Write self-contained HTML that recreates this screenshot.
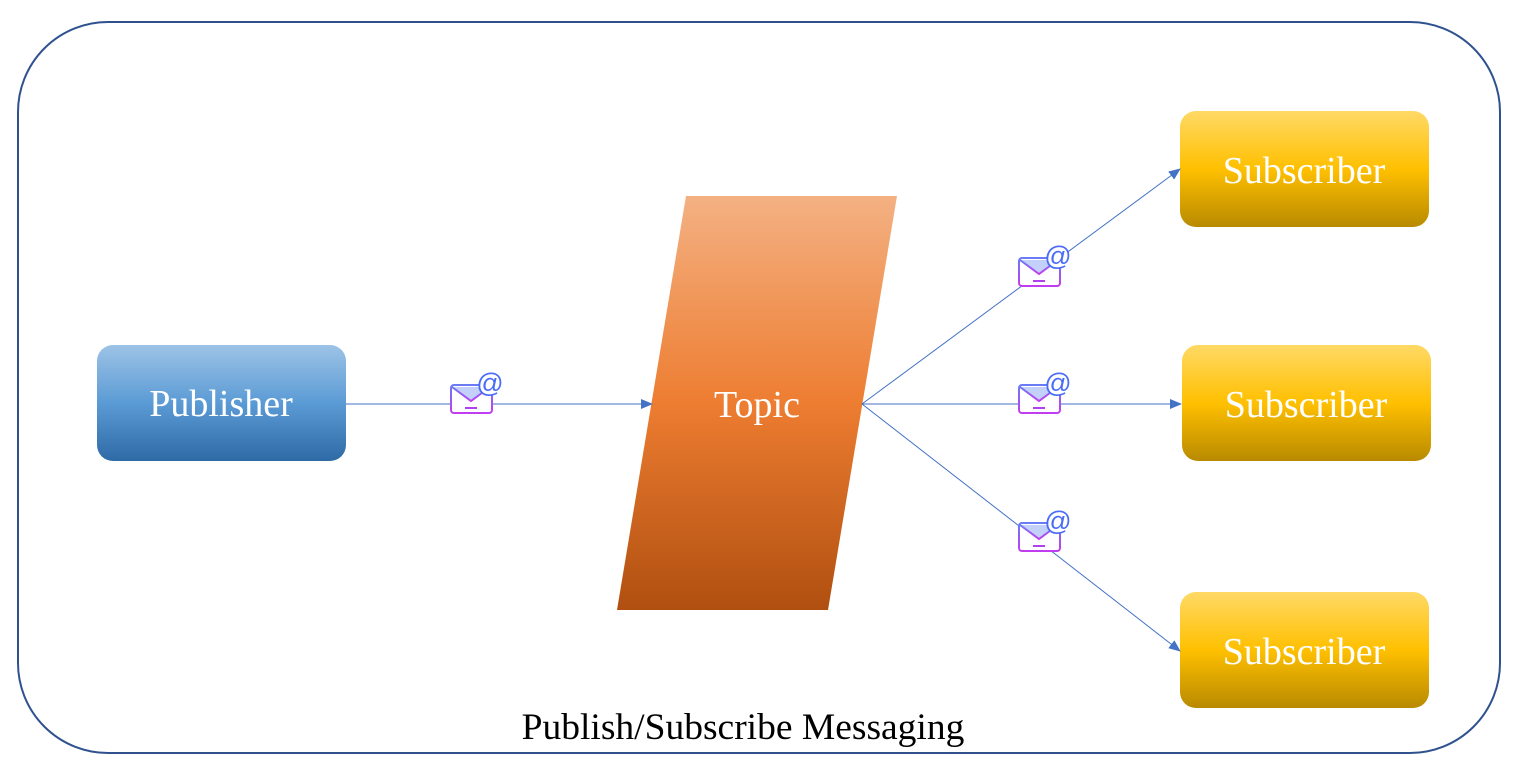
<!DOCTYPE html>
<html><head><meta charset="utf-8"><style>
html,body{margin:0;padding:0;background:#fff;}
svg{display:block;}
text{font-family:"Liberation Serif",serif;}
</style></head><body>
<svg width="1528" height="779" viewBox="0 0 1528 779" xmlns="http://www.w3.org/2000/svg">
<defs>
<linearGradient id="gb" x1="0" y1="0" x2="0" y2="1"><stop offset="0" stop-color="#9dc3e6"/><stop offset="0.5" stop-color="#5b9bd5"/><stop offset="1" stop-color="#2e6aa6"/></linearGradient>
<linearGradient id="gy" x1="0" y1="0" x2="0" y2="1"><stop offset="0" stop-color="#ffd966"/><stop offset="0.5" stop-color="#ffc000"/><stop offset="1" stop-color="#b88a00"/></linearGradient>
<linearGradient id="go" x1="0" y1="0" x2="0" y2="1"><stop offset="0" stop-color="#f4b183"/><stop offset="0.5" stop-color="#ed7d31"/><stop offset="1" stop-color="#b04f10"/></linearGradient>
<linearGradient id="gm" x1="0" y1="0" x2="0" y2="1"><stop offset="0" stop-color="#6a7cf5"/><stop offset="1" stop-color="#c23cf0"/></linearGradient>
<marker id="ar" markerWidth="12" markerHeight="10" refX="11" refY="5" orient="auto" markerUnits="userSpaceOnUse"><path d="M0,0 L12,5 L0,10 z" fill="#4472c4"/></marker>
<g id="ic">
<rect x="1" y="2" width="41" height="28" rx="3" fill="#fff" stroke="url(#gm)" stroke-width="2"/>
<path d="M2,4 L21,18 L40,4" fill="#c3d0fa" stroke="url(#gm)" stroke-width="2"/>
<path d="M15,25 L27,25" stroke="#b040f0" stroke-width="2"/>
<circle cx="40" cy="1" r="11" fill="#fff"/>
<text x="40" y="9" font-size="27" fill="#4a6cf7" text-anchor="middle" style="font-family:'Liberation Sans',sans-serif">@</text>
</g>
</defs>
<rect x="18" y="22" width="1482" height="731" rx="90" fill="#fff" stroke="#2f528f" stroke-width="2"/>
<rect x="97" y="345" width="249" height="116" rx="16" fill="url(#gb)"/>
<text x="221" y="416" font-size="38" fill="#fff" text-anchor="middle">Publisher</text>
<polygon points="686,196 897,196 828,610 617,610" fill="url(#go)"/>
<text x="757" y="417" font-size="38" fill="#fff" text-anchor="middle">Topic</text>
<rect x="1180" y="111" width="249" height="116" rx="16" fill="url(#gy)"/>
<text x="1304" y="183" font-size="38" fill="#fff" text-anchor="middle">Subscriber</text>
<rect x="1182" y="345" width="249" height="116" rx="16" fill="url(#gy)"/>
<text x="1306" y="417" font-size="38" fill="#fff" text-anchor="middle">Subscriber</text>
<rect x="1180" y="592" width="249" height="116" rx="16" fill="url(#gy)"/>
<text x="1304" y="664" font-size="38" fill="#fff" text-anchor="middle">Subscriber</text>
<g stroke="#4472c4" stroke-width="1" fill="none">
<line x1="346" y1="404" x2="652" y2="404" marker-end="url(#ar)"/>
<line x1="862" y1="404" x2="1180" y2="169" marker-end="url(#ar)"/>
<line x1="862" y1="404" x2="1181" y2="404" marker-end="url(#ar)"/>
<line x1="862" y1="404" x2="1180" y2="651" marker-end="url(#ar)"/>
</g>
<use href="#ic" x="450" y="383"/>
<use href="#ic" x="1018" y="256"/>
<use href="#ic" x="1018" y="383"/>
<use href="#ic" x="1018" y="521"/>
<text x="743" y="739" font-size="37.5" fill="#000" text-anchor="middle">Publish/Subscribe Messaging</text>
</svg>
</body></html>
